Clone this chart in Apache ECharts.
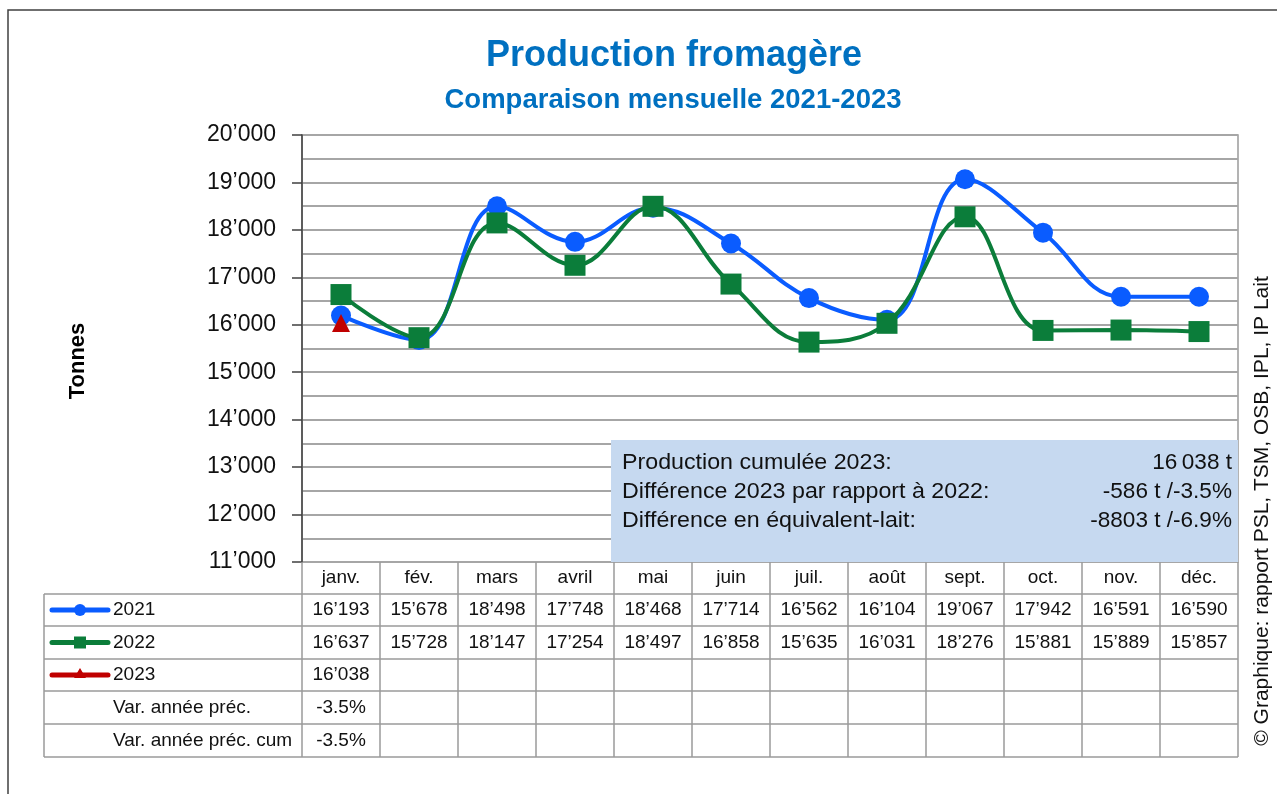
<!DOCTYPE html>
<html><head><meta charset="utf-8">
<script src="https://cdn.jsdelivr.net/npm/echarts@6/dist/echarts.min.js"></script>
<style>html,body{margin:0;padding:0;background:#fff}#c{width:1277px;height:794px}</style>
</head><body><div id="c"></div>
<script>
const months = ['janv.','fév.','mars','avril','mai','juin','juil.','août','sept.','oct.','nov.','déc.'];
const s2021 = [16193,15678,18498,17748,18468,17714,16562,16104,19067,17942,16591,16590];
const s2022 = [16637,15728,18147,17254,18497,16858,15635,16031,18276,15881,15889,15857];
const s2023 = [16038];
const varPrev = ['-3.5%'];
const varCum = ['-3.5%'];
const boxLabels = ['Production cumulée 2023:','Différence 2023 par rapport à 2022:','Différence en équivalent-lait:'];
const boxValues = ['16\u2009038 t','-586 t /-3.5%','-8803 t /-6.9%'];

const FONT = 'Liberation Sans, Arial, sans-serif';
const fmt = v => { const s = String(v); return s.length > 3 ? s.slice(0, s.length-3) + '\u2019' + s.slice(-3) : s; };

const G = {left: 302, right: 1238, top: 135, bottom: 562};
const colW = (G.right - G.left) / 12;
const rowH = [32, 32, 33, 32, 33, 33];
const tableLeft = 44;

const chart = echarts.init(document.getElementById('c'), null, {renderer: 'canvas'});

function buildGraphic() {
  const g = [];
  g.push({type:'rect', shape:{x:8, y:10, width:1300, height:800}, style:{fill:'none', stroke:'#404040', lineWidth:1.5}, silent:true, z:0});
  // annotation box
  g.push({type:'rect', shape:{x:611, y:440, width:G.right-611, height:G.bottom-440}, style:{fill:'#c6d9f0'}, z:3});
  boxLabels.forEach((t,i)=>{
    g.push({type:'text', x:622, y:463+i*29, scaleX:1.08, style:{text:t, font:'21.5px '+FONT, fill:'#111', textVerticalAlign:'middle'}, z:4});
    g.push({type:'text', x:1232, y:463+i*29, scaleX:1.05, style:{text:boxValues[i], font:'21.5px '+FONT, fill:'#111', textAlign:'right', textVerticalAlign:'middle'}, z:4});
  });
  // table
  const ys = [G.bottom];
  rowH.forEach(h=>ys.push(ys[ys.length-1]+h));
  const lc = '#9a9a9a';
  for (let r=1; r<ys.length; r++) {
    g.push({type:'line', shape:{x1:tableLeft, y1:ys[r], x2:G.right, y2:ys[r]}, style:{stroke:lc, lineWidth:1.5}, z:2});
  }
  for (let c=0; c<=12; c++) {
    const x = G.left + c*colW;
    g.push({type:'line', shape:{x1:x, y1:G.bottom, x2:x, y2:ys[ys.length-1]}, style:{stroke:lc, lineWidth:1.5}, z:2});
  }
  g.push({type:'line', shape:{x1:tableLeft, y1:ys[1], x2:tableLeft, y2:ys[ys.length-1]}, style:{stroke:lc, lineWidth:1.5}, z:2});
  const TF = '19px '+FONT;
  months.forEach((m,i)=>{
    g.push({type:'text', x:G.left+(i+0.5)*colW, y:(ys[0]+ys[1])/2, style:{text:m, font:TF, fill:'#111', textAlign:'center', textVerticalAlign:'middle'}, z:4});
  });
  const rows = [s2021.map(fmt), s2022.map(fmt), s2023.map(fmt), varPrev, varCum];
  rows.forEach((arr, r)=>{
    const cy = (ys[r+1]+ys[r+2])/2;
    arr.forEach((t,i)=>{
      g.push({type:'text', x:G.left+(i+0.5)*colW, y:cy, style:{text:t, font:TF, fill:'#111', textAlign:'center', textVerticalAlign:'middle'}, z:4});
    });
  });
  const leg = [['2021','#0a5cff','circle'],['2022','#0b7d3a','rect'],['2023','#c00000','triangle']];
  leg.forEach((l,r)=>{
    const cy = (ys[r+1]+ys[r+2])/2;
    g.push({type:'line', shape:{x1:52, y1:cy, x2:108, y2:cy}, style:{stroke:l[1], lineWidth:5, lineCap:'round'}, z:4});
    if (l[2]==='circle') g.push({type:'circle', shape:{cx:80, cy:cy, r:6}, style:{fill:l[1]}, z:5});
    else if (l[2]==='rect') g.push({type:'rect', shape:{x:74, y:cy-6, width:12, height:12}, style:{fill:l[1]}, z:5});
    else g.push({type:'polygon', shape:{points:[[80,cy-7],[86,cy+3],[74,cy+3]]}, style:{fill:l[1]}, z:5});
    g.push({type:'text', x:113, y:cy, style:{text:l[0], font:TF, fill:'#111', textVerticalAlign:'middle'}, z:4});
  });
  ['Var. année préc.','Var. année préc. cum'].forEach((t,k)=>{
    const cy = (ys[4+k]+ys[5+k])/2;
    g.push({type:'text', x:113, y:cy, style:{text:t, font:TF, fill:'#111', textVerticalAlign:'middle'}, z:4});
  });
  g.push({type:'text', x:78, y:361, rotation:Math.PI/2, style:{text:'Tonnes', font:'bold 22px '+FONT, fill:'#000', textAlign:'center', textVerticalAlign:'middle'}, z:4});
  g.push({type:'text', x:1262, y:511, rotation:Math.PI/2, style:{text:'© Graphique: rapport PSL, TSM, OSB, IPL, IP Lait', font:'21px '+FONT, fill:'#111', textAlign:'center', textVerticalAlign:'middle'}, z:4});
  return g;
}

chart.setOption({
  animation:false,
  title:[
    {text:'Production fromagère', left:669, top:33, textAlign:'center', textStyle:{fontFamily:FONT, fontSize:36, fontWeight:'bold', color:'#0070c0'}},
    {text:'Comparaison mensuelle 2021-2023', left:668, top:81, textAlign:'center', textStyle:{fontFamily:FONT, fontSize:27.5, fontWeight:'bold', color:'#0070c0'}}
  ],
  grid:{left:G.left, top:G.top, width:G.right-G.left, height:G.bottom-G.top, show:true, borderColor:'#9a9a9a', borderWidth:1.5, containLabel:false},
  xAxis:{type:'category', data:months, boundaryGap:true,
    axisLine:{show:false}, axisTick:{show:false}, axisLabel:{show:false}, splitLine:{show:false}},
  yAxis:{type:'value', min:11000, max:20000, interval:1000,
    axisLine:{show:true, lineStyle:{color:'#404040', width:1.5}},
    axisTick:{show:true, length:10, lineStyle:{color:'#404040', width:1.5}},
    axisLabel:{formatter:v=>fmt(v), fontFamily:FONT, fontSize:23, color:'#111', margin:26},
    splitLine:{show:true, lineStyle:{color:'#a6a6a6', width:2}},
    minorTick:{show:false, splitNumber:2},
    minorSplitLine:{show:true, lineStyle:{color:'#a6a6a6', width:2}}
  },
  series:[
    {name:'2021', type:'line', data:s2021, smooth:0.4, symbol:'circle', symbolSize:20, z:5,
      lineStyle:{color:'#0a5cff', width:4}, itemStyle:{color:'#0a5cff'}},
    {name:'2022', type:'line', data:s2022, smooth:0.4, symbol:'rect', symbolSize:21, z:6,
      lineStyle:{color:'#0b7d3a', width:4}, itemStyle:{color:'#0b7d3a'}},
    {name:'2023', type:'line', data:s2023, symbol:'triangle', symbolSize:18, z:7,
      lineStyle:{color:'#c00000', width:4}, itemStyle:{color:'#c00000'}}
  ],
  graphic: buildGraphic()
});
</script></body></html>
